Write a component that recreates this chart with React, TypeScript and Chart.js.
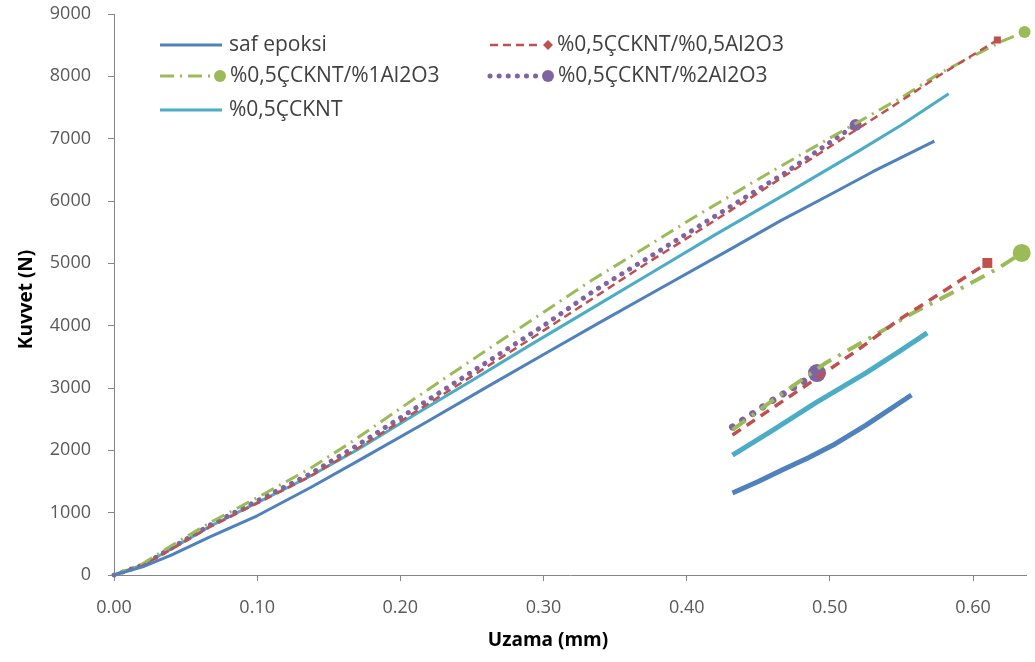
import React, { useEffect, useRef } from "react";
import { Chart, registerables } from "chart.js";

Chart.register(...registerables);

// ---------- DATA ----------
const seriesNames = [
  "saf epoksi",
  "%0,5ÇCKNT/%0,5Al2O3",
  "%0,5ÇCKNT/%1Al2O3",
  "%0,5ÇCKNT/%2Al2O3",
  "%0,5ÇCKNT",
];

const xTicks = [0, 0.1, 0.2, 0.3, 0.4, 0.5, 0.6];
const yTicks = [0, 1000, 2000, 3000, 4000, 5000, 6000, 7000, 8000, 9000];

// main curves
const safX = [0, 0.02, 0.04, 0.067, 0.1, 0.137, 0.172, 0.218, 0.26, 0.304, 0.34, 0.374, 0.43, 0.466, 0.472, 0.5, 0.53, 0.573];
const safY = [0, 130, 320, 610, 950, 1400, 1850, 2450, 3010, 3590, 4060, 4500, 5220, 5690, 5760, 6100, 6470, 6960];

const al05X = [0, 0.02, 0.04, 0.067, 0.1, 0.137, 0.17, 0.21, 0.25, 0.3, 0.37, 0.4, 0.45, 0.5, 0.55, 0.577, 0.617];
const al05Y = [0, 150, 410, 770, 1150, 1580, 2030, 2610, 3190, 3920, 4970, 5400, 6130, 6870, 7610, 8022, 8583];

const al1X = [0, 0.02, 0.04, 0.067, 0.1, 0.137, 0.165, 0.21, 0.276, 0.334, 0.374, 0.402, 0.45, 0.5, 0.55, 0.577, 0.62, 0.636];
const al1Y = [0, 180, 470, 840, 1240, 1710, 2120, 2830, 3850, 4733, 5294, 5695, 6350, 7010, 7660, 8054, 8560, 8712];

const al2X = [0, 0.02, 0.04, 0.067, 0.1, 0.137, 0.17, 0.21, 0.25, 0.3, 0.334, 0.374, 0.42, 0.47, 0.518];
const al2Y = [0, 160, 430, 800, 1190, 1620, 2080, 2670, 3260, 4000, 4540, 5102, 5760, 6470, 7220];

const ckntX = [0, 0.02, 0.04, 0.067, 0.1, 0.135, 0.17, 0.21, 0.25, 0.29, 0.339, 0.374, 0.42, 0.472, 0.52, 0.55, 0.583];
const ckntY = [0, 160, 420, 780, 1160, 1560, 2010, 2570, 3120, 3680, 4350, 4830, 5460, 6150, 6800, 7220, 7720];

// lower (magnified) curves
const safLowX = [0.432, 0.45, 0.467, 0.485, 0.502, 0.525, 0.557];
const safLowY = [1316, 1500, 1690, 1880, 2080, 2400, 2888];

const al05LowX = [0.432, 0.46, 0.491, 0.52, 0.548, 0.58, 0.61];
const al05LowY = [2246, 2680, 3160, 3620, 4091, 4560, 5006];

const al1LowX = [0.432, 0.46, 0.497, 0.53, 0.558, 0.59, 0.618, 0.634];
const al1LowY = [2330, 2800, 3401, 3830, 4203, 4580, 4925, 5166];

const al2LowX = [0.432, 0.46, 0.491];
const al2LowY = [2374, 2800, 3240];

const ckntLowX = [0.432, 0.46, 0.49, 0.525, 0.548, 0.568];
const ckntLowY = [1925, 2320, 2760, 3240, 3580, 3883];

// ---------- STYLES ----------
const COLORS = ["#4F81BD", "#C0504D", "#9BBB59", "#8064A2", "#4BACC6"];
const mainStyle = [
  { width: 3, dash: [] as number[], cap: "butt", marker: "", r: 0 },
  { width: 2.5, dash: [8, 5], cap: "butt", marker: "rect", r: 5 },
  { width: 3, dash: [14, 6, 2, 6], cap: "butt", marker: "circle", r: 6 },
  { width: 5, dash: [0.1, 9], cap: "round", marker: "circle", r: 6 },
  { width: 3, dash: [] as number[], cap: "butt", marker: "", r: 0 },
];
const lowStyle = [
  { width: 5, dash: [] as number[], cap: "butt", marker: "", r: 0 },
  { width: 3.5, dash: [10, 7], cap: "butt", marker: "rect", r: 7 },
  { width: 4, dash: [16, 8, 3, 8], cap: "butt", marker: "circle", r: 9 },
  { width: 7, dash: [0.1, 12], cap: "round", marker: "circle", r: 9 },
  { width: 5, dash: [] as number[], cap: "butt", marker: "", r: 0 },
];

const mainX = [safX, al05X, al1X, al2X, ckntX];
const mainY = [safY, al05Y, al1Y, al2Y, ckntY];
const lowX = [safLowX, al05LowX, al1LowX, al2LowX, ckntLowX];
const lowY = [safLowY, al05LowY, al1LowY, al2LowY, ckntLowY];

function makeDataset(xs: number[], ys: number[], i: number, st: any, label: string) {
  const n = xs.length;
  return {
    label,
    data: xs.map((x, k) => ({ x, y: ys[k] })),
    borderColor: COLORS[i],
    backgroundColor: COLORS[i],
    borderWidth: st.width,
    borderDash: st.dash,
    borderCapStyle: st.cap,
    borderJoinStyle: "round",
    showLine: true,
    tension: 0,
    fill: false,
    clip: false,
    pointStyle: st.marker || "circle",
    pointRadius: (ctx: any) => (st.marker && ctx.dataIndex === n - 1 ? st.r : 0),
    pointHoverRadius: 0,
    pointBorderWidth: 0,
    pointBackgroundColor: COLORS[i],
    pointBorderColor: COLORS[i],
  };
}

const FONT = "'Open Sans', 'DejaVu Sans', sans-serif";

const legendPos = [
  { x: 160, y: 45, len: 62, text: 229 },
  { x: 490, y: 45, len: 58, text: 557 },
  { x: 160, y: 76, len: 60, text: 230 },
  { x: 490, y: 76, len: 58, text: 558 },
  { x: 160, y: 110, len: 62, text: 229 },
];

const overlayPlugin = {
  id: "overlay",
  afterDraw(chart: any) {
    const ctx = chart.ctx;
    const area = chart.chartArea;
    ctx.save();
    legendPos.forEach((p, i) => {
      const st = mainStyle[i];
      ctx.strokeStyle = COLORS[i];
      ctx.lineWidth = st.width;
      ctx.setLineDash(st.dash);
      ctx.lineCap = st.cap;
      ctx.beginPath();
      ctx.moveTo(p.x, p.y);
      ctx.lineTo(p.x + p.len - (st.marker ? 6 : 0), p.y);
      ctx.stroke();
      ctx.setLineDash([]);
      ctx.lineCap = "butt";
      if (st.marker) {
        const mx = p.x + p.len;
        ctx.fillStyle = COLORS[i];
        ctx.beginPath();
        if (st.marker === "rect") {
          const s = 5;
          ctx.moveTo(mx, p.y - s);
          ctx.lineTo(mx + s, p.y);
          ctx.lineTo(mx, p.y + s);
          ctx.lineTo(mx - s, p.y);
          ctx.closePath();
        } else {
          ctx.arc(mx, p.y, 6, 0, Math.PI * 2);
        }
        ctx.fill();
      }
      ctx.fillStyle = "#404040";
      ctx.font = `21px ${FONT}`;
      ctx.textBaseline = "middle";
      ctx.textAlign = "left";
      ctx.fillText(seriesNames[i], p.text, p.y);
    });
    ctx.fillStyle = "#000000";
    ctx.font = `bold 19px ${FONT}`;
    ctx.textAlign = "center";
    ctx.textBaseline = "middle";
    ctx.fillText("Uzama (mm)", area.left + 434, 641);
    ctx.translate(27, (area.top + area.bottom) / 2 + 5);
    ctx.rotate(-Math.PI / 2);
    ctx.fillText("Kuvvet (N)", 0, 0);
    ctx.restore();
  },
};

export default function App() {
  const ref = useRef<HTMLCanvasElement | null>(null);
  useEffect(() => {
    if (!ref.current) return;
    const datasets: any[] = [];
    for (let i = 0; i < 5; i++) datasets.push(makeDataset(mainX[i], mainY[i], i, mainStyle[i], seriesNames[i]));
    for (let i = 0; i < 5; i++) datasets.push(makeDataset(lowX[i], lowY[i], i, lowStyle[i], seriesNames[i] + " (detay)"));
    const chart = new Chart(ref.current, {
      type: "scatter",
      data: { datasets },
      plugins: [overlayPlugin],
      options: {
        animation: false,
        responsive: true,
        maintainAspectRatio: false,
        layout: { padding: { top: 14, right: 0, bottom: 0, left: 0 } },
        plugins: { legend: { display: false }, tooltip: { enabled: false } },
        scales: {
          x: {
            type: "linear",
            min: 0,
            max: 0.637,
            afterBuildTicks: (s: any) => {
              s.ticks = xTicks.map((v) => ({ value: v }));
            },
            afterFit: (s: any) => {
              s.height = 87;
              s.paddingLeft = 0;
              s.paddingRight = 0;
            },
            ticks: {
              callback: (v: any) => Number(v).toFixed(2),
              color: "#595959",
              font: { family: FONT, size: 18 },
              padding: 16,
              maxRotation: 0,
            },
            grid: { drawOnChartArea: false, drawTicks: true, tickLength: 6, color: "#868686" },
            border: { display: true, color: "#868686", width: 1 },
          },
          y: {
            type: "linear",
            min: 0,
            max: 9000,
            afterBuildTicks: (s: any) => {
              s.ticks = yTicks.map((v) => ({ value: v }));
            },
            afterFit: (s: any) => {
              s.width = 114;
              s.paddingTop = 0;
              s.paddingBottom = 0;
            },
            ticks: {
              callback: (v: any) => String(v),
              color: "#595959",
              font: { family: FONT, size: 18 },
              padding: 17,
            },
            grid: { drawOnChartArea: false, drawTicks: true, tickLength: 6, color: "#868686" },
            border: { display: true, color: "#868686", width: 1 },
          },
        },
      },
    });
    return () => chart.destroy();
  }, []);
  return (
    <div style={{ position: "absolute", left: 0, top: 0, width: 1035, height: 662, background: "#ffffff" }}>
      <canvas ref={ref} />
    </div>
  );
}
